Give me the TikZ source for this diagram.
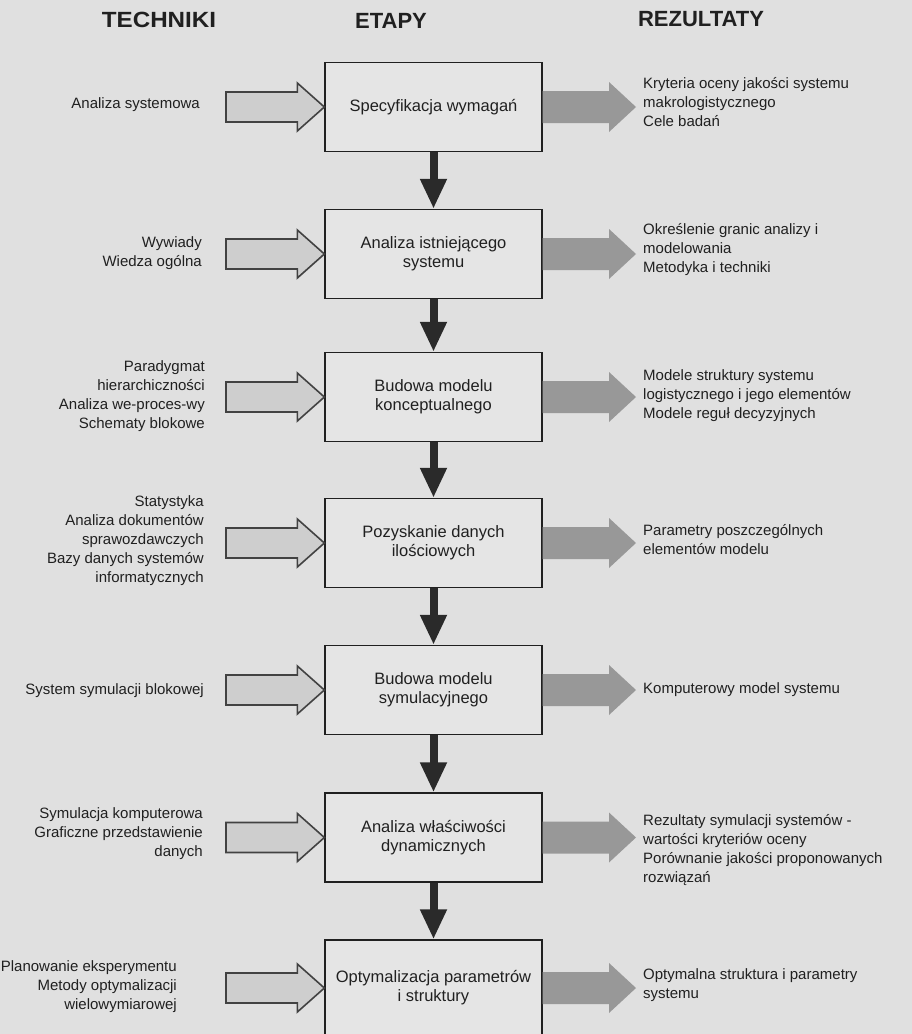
\documentclass[tikz,border=0pt]{standalone}
\usepackage{fontspec}
\setmainfont{Liberation Sans}
\usetikzlibrary{calc,arrows.meta}

\definecolor{paper}{RGB}{224,224,224}
\definecolor{boxfill}{RGB}{229,229,229}
\definecolor{ink}{RGB}{32,32,32}
\definecolor{outfill}{RGB}{152,152,152}
\definecolor{infill}{RGB}{206,206,206}
\definecolor{inline}{RGB}{66,66,66}
\definecolor{flowink}{RGB}{42,42,42}

% hollow block arrow: tail at #1, tip at #2 (same height as #2)
\newcommand\inputarrow[2]{%
  \filldraw[inarrow] let \p1=(#1), \p2=(#2) in
    (\x1,\y2+15pt) -- (\x2-27pt,\y2+15pt) -- (\x2-27pt,\y2+24pt) -- (\x2,\y2)
    -- (\x2-27pt,\y2-24pt) -- (\x2-27pt,\y2-15pt) -- (\x1,\y2-15pt) -- cycle;}
% solid grey block arrow: tail at #1, tip at #2 (same height as #1)
\newcommand\outputarrow[2]{%
  \fill[outarrow] let \p1=(#1), \p2=(#2) in
    (\x1,\y1+16pt) -- (\x2-27pt,\y1+16pt) -- (\x2-27pt,\y1+25pt) -- (\x2,\y1)
    -- (\x2-27pt,\y1-25pt) -- (\x2-27pt,\y1-16pt) -- (\x1,\y1-16pt) -- cycle;}

\begin{document}
\begin{tikzpicture}[x=1pt,y=-1pt,
  stage/.style={draw=ink, line width=1.3pt, fill=boxfill, minimum width=217pt,
    minimum height=89pt, inner sep=2pt, align=center, text=ink,
    font=\fontsize{16.5}{19}\selectfont},
  lnote/.style={anchor=east, align=right, inner sep=0pt, text=ink,
    font=\fontsize{15}{19}\selectfont},
  rnote/.style={anchor=west, align=left, inner sep=0pt, text=ink,
    font=\fontsize{15}{19}\selectfont},
  colhead/.style={text=ink, inner sep=0pt, font=\fontsize{22}{24}\selectfont\bfseries},
  flow/.style={draw=flowink, line width=8pt, -{Triangle[length=30pt,width=25pt]}},
  inarrow/.style={fill=infill, draw=inline, line width=1.6pt, line join=miter},
  outarrow/.style={fill=outfill}]

\useasboundingbox (0,0) rectangle (912,1034);
\fill[paper] (0,0) rectangle (912,1034);
\clip (0,0) rectangle (912,1034);

% column headings
\node[colhead] (hT) at (159,20) {\scalebox{1.1}[1]{TECHNIKI}};
\node[colhead] (hE) at (391,21) {ETAPY};
\node[colhead] (hR) at (701,19) {REZULTATY};

% stages
\node[stage] (s1) at (433.5,107)   {Specyfikacja wymagań};
\node[stage] (s2) at (433.5,254)   {Analiza istniejącego\\systemu};
\node[stage] (s3) at (433.5,397)   {Budowa modelu\\konceptualnego};
\node[stage] (s4) at (433.5,543)   {Pozyskanie danych\\ilościowych};
\node[stage] (s5) at (433.5,690)   {Budowa modelu\\symulacyjnego};
\node[stage] (s6) at (433.5,837.5) {Analiza właściwości\\dynamicznych};
\node[stage, minimum height=96pt] (s7) at (433.5,988) {Optymalizacja parametrów\\i struktury};

% flow between stages
\draw[flow] (s1) -- (s2);
\draw[flow] (s2) -- (s3);
\draw[flow] (s3) -- (s4);
\draw[flow] (s4) -- (s5);
\draw[flow] (s5) -- (s6);
\draw[flow] (s6) -- (s7);

% techniques
\node[lnote] (k1) at (200,105) {Analiza systemowa};
\node[lnote] (k2) at (202,253) {Wywiady\\Wiedza ogólna};
\node[lnote] (k3) at (205,396) {Paradygmat\\hierarchiczności\\Analiza we-proces-wy\\Schematy blokowe};
\node[lnote] (k4) at (204,541) {Statystyka\\Analiza dokumentów\\sprawozdawczych\\Bazy danych systemów\\informatycznych};
\node[lnote] (k5) at (204,691) {System symulacji blokowej};
\node[lnote] (k6) at (203,834) {Symulacja komputerowa\\Graficzne przedstawienie\\danych};
\node[lnote] (k7) at (177,987) {Planowanie eksperymentu\\Metody optymalizacji\\wielowymiarowej};

% results
\node[rnote] (r1) at (643,102) {Kryteria oceny jakości systemu\\makrologistycznego\\Cele badań};
\node[rnote] (r2) at (643,250) {Określenie granic analizy i\\modelowania\\Metodyka i techniki};
\node[rnote] (r3) at (643,396) {Modele struktury systemu\\logistycznego i jego elementów\\Modele reguł decyzyjnych};
\node[rnote] (r4) at (643,540) {Parametry poszczególnych\\elementów modelu};
\node[rnote] (r5) at (643,690) {Komputerowy model systemu};
\node[rnote] (r6) at (643,850) {Rezultaty symulacji systemów -\\wartości kryteriów oceny\\Porównanie jakości proponowanych\\rozwiązań};
\node[rnote] (r7) at (643,985) {Optymalna struktura i parametry\\systemu};

% input arrow tails and output arrow tips
\foreach \i/\y in {1/107,2/254,3/397,4/543,5/690,6/837.5,7/988}{
  \coordinate (t\i) at (226,\y);
  \coordinate (o\i) at (636,\y);
}
\foreach \i in {1,...,7}{
  \inputarrow{t\i}{s\i.west}
  \outputarrow{s\i.east}{o\i}
}
\end{tikzpicture}
\end{document}
